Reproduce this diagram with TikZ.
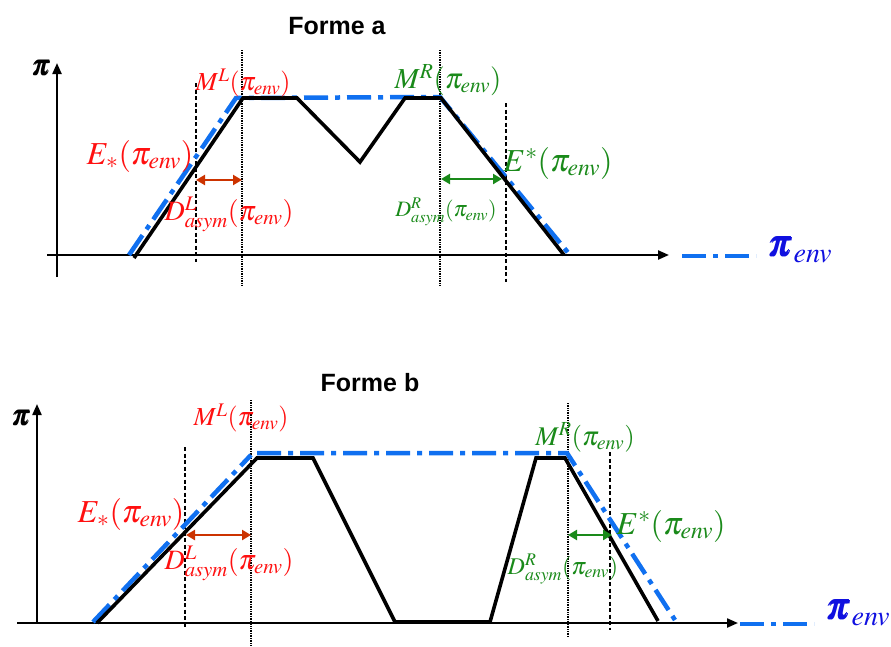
\documentclass[tikz,border=0pt]{standalone}
\usepackage{amsmath}
\usepackage{mathptmx}
\usepackage{bm}
\usepackage{fontspec}
\setmainfont{Liberation Sans}
\usetikzlibrary{arrows.meta}
\definecolor{lblue}{HTML}{1070F0}
\definecolor{dblue}{HTML}{1010E0}
\definecolor{myred}{HTML}{FF1010}
\definecolor{mygreen}{HTML}{1A8A1A}
\definecolor{arrred}{HTML}{CC3300}
\tikzset{
  axis/.style={line width=2.2pt,-{Triangle[length=11pt,width=9pt]}},
  curve/.style={line width=3.6pt,line join=miter},
  env/.style={line width=4.5pt,color=lblue,dash pattern=on 24pt off 7pt on 5pt off 7pt},
  fine/.style={line width=1.1pt,dash pattern=on 1pt off 0.7pt},
  dsh/.style={line width=1.3pt,dash pattern=on 4pt off 2.5pt},
  darrL/.style={line width=2.5pt,color=arrred,{Triangle[length=9pt,width=10pt]}-{Triangle[length=9pt,width=10pt]}},
  darrR/.style={line width=2.5pt,color=mygreen,{Triangle[length=9pt,width=10pt]}-{Triangle[length=9pt,width=10pt]}},
  ttl/.style={font=\fontsize{25}{27}\selectfont\bfseries},
  lab/.style={inner sep=0pt},
}
\begin{document}
\begin{tikzpicture}[x=1pt,y=-1pt]
\useasboundingbox (0,0) rectangle (891,646);
% ================= Forme a =================
\node[ttl] (ta) at (337,26) {Forme a};
\coordinate (ya0) at (57,277); \coordinate (ya1) at (57,63);
\coordinate (xa0) at (47,255); \coordinate (xa1) at (669,255);
\draw[axis] (ya0) -- (ya1);
\draw[axis] (xa0) -- (xa1);
\node[lab] (pia) at (41,68) {\fontsize{29}{29}\selectfont$\bm{\pi}$};
% fine dotted
\draw[fine] (242,50) -- (242,285);
\draw[fine] (440,50) -- (440,285);
% dashed
\draw[dsh] (196,83) -- (196,262);
\draw[dsh] (506,103) -- (506,282);
% blue envelope
\draw[env] (129,255) -- (236,98) -- (440,97) -- (570,255);
% black curve
\draw[curve] (134,258) -- (243,98) -- (297,98) -- (360,162) -- (405,98) -- (441,98) -- (564,255);
% arrows
\draw[darrL] (196,180) -- (242,180);
\draw[darrR] (441,179) -- (502,179);
% legend
\draw[env] (682,256) -- (756,256);
\node[lab,text=dblue] (pienva) at (800,250) {\fontsize{38}{38}\selectfont$\bm{\pi}_{env}$};
% labels
\node[lab,text=myred] (mla) at (243,83) {\fontsize{26}{26}\selectfont$M^{L}(\pi_{env})$};
\node[lab,text=myred] (esa) at (140,156) {\fontsize{32}{32}\selectfont$E_{*}(\pi_{env})$};
\node[lab,text=myred] (dla) at (229,214) {\fontsize{28}{28}\selectfont$D^{L}_{asym}(\pi_{env})$};
\node[lab,text=mygreen] (mra) at (448,80) {\fontsize{29}{29}\selectfont$M^{R}(\pi_{env})$};
\node[lab,text=mygreen] (esra) at (558,163) {\fontsize{32}{32}\selectfont$E^{*}(\pi_{env})$};
\node[lab,text=mygreen] (dra) at (446,212) {\fontsize{22}{22}\selectfont$D^{R}_{asym}(\pi_{env})$};
% ================= Forme b =================
\node[ttl] (tb) at (370,383) {Forme b};
\coordinate (yb0) at (37,623); \coordinate (yb1) at (37,404);
\coordinate (xb0) at (17,623); \coordinate (xb1) at (738,623);
\draw[axis] (yb0) -- (yb1);
\draw[axis] (xb0) -- (xb1);
\node[lab] (pib) at (21,418) {\fontsize{29}{29}\selectfont$\bm{\pi}$};
% fine dotted
\draw[fine] (251,400) -- (251,646);
\draw[fine] (568,403) -- (568,637);
% dashed
\draw[dsh] (185,447) -- (185,627);
\draw[dsh] (610,452) -- (610,630);
% blue envelope
\draw[env] (93,622) -- (251,455);
\draw[env] (257,453) -- (567,453) -- (675,620);
% black curve
\draw[curve] (97,623) -- (257,458) -- (313,458) -- (395,622) -- (490,622) -- (536,458) -- (565,458) -- (658,621);
% arrows
\draw[darrL] (186,535) -- (251,535);
\draw[darrR] (568,535) -- (612,535);
% legend
\draw[env] (740,624) -- (814,624);
\node[lab,text=dblue] (pienvb) at (858,613) {\fontsize{38}{38}\selectfont$\bm{\pi}_{env}$};
% labels
\node[lab,text=myred] (mlb) at (241,418) {\fontsize{26}{26}\selectfont$M^{L}(\pi_{env})$};
\node[lab,text=myred] (esb) at (131,514) {\fontsize{32}{32}\selectfont$E_{*}(\pi_{env})$};
\node[lab,text=myred] (dlb) at (229,563) {\fontsize{28}{28}\selectfont$D^{L}_{asym}(\pi_{env})$};
\node[lab,text=mygreen] (mrb) at (585,437) {\fontsize{27}{27}\selectfont$M^{R}(\pi_{env})$};
\node[lab,text=mygreen] (esrb) at (671,526) {\fontsize{32}{32}\selectfont$E^{*}(\pi_{env})$};
\node[lab,text=mygreen] (drb) at (563,569) {\fontsize{24}{24}\selectfont$D^{R}_{asym}(\pi_{env})$};
\end{tikzpicture}
\end{document}
